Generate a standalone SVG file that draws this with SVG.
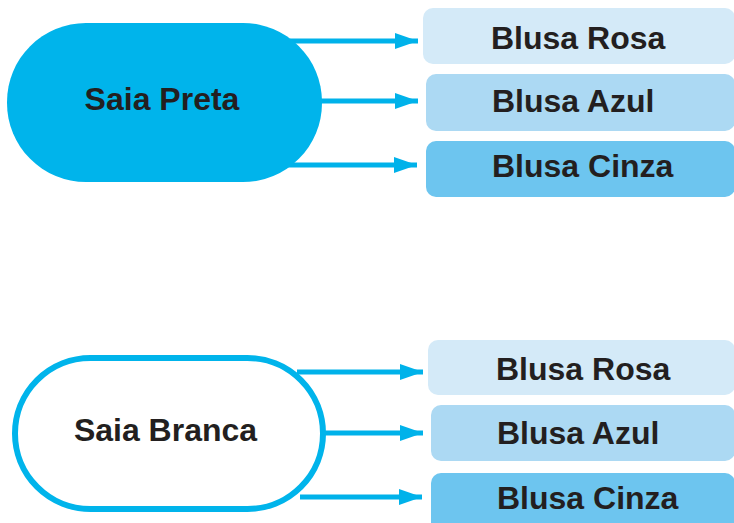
<svg xmlns="http://www.w3.org/2000/svg" width="734" height="523" viewBox="0 0 734 523">
<defs>
<style>
.t{font-family:"Liberation Sans",Arial,sans-serif;font-weight:bold;font-size:32px;fill:#231f20}
.c{stroke:#00b2ea;stroke-width:5;fill:none}
.r{fill:#d4eaf8}.a{fill:#acd9f3}.g{fill:#6dc5ef}
</style>
<marker id="ah" markerUnits="userSpaceOnUse" markerWidth="24" markerHeight="18" refX="23" refY="8" orient="auto" viewBox="0 0 24 16">
<path d="M0,0 L23,8 L0,16 Z" fill="#00b2ea"/>
</marker>
</defs>
<g id="connectors">
<line class="c" x1="290" y1="41" x2="418" y2="41" marker-end="url(#ah)"/>
<line class="c" x1="320" y1="101" x2="418" y2="101" marker-end="url(#ah)"/>
<line class="c" x1="287" y1="165" x2="417" y2="165" marker-end="url(#ah)"/>
<line class="c" x1="297" y1="372" x2="423" y2="372" marker-end="url(#ah)"/>
<line class="c" x1="323" y1="433" x2="423" y2="433" marker-end="url(#ah)"/>
<line class="c" x1="300" y1="497" x2="422" y2="497" marker-end="url(#ah)"/>
</g>
<g id="saia-preta">
<rect x="7" y="23" width="315" height="159" rx="79" fill="#00b4eb"/>
<text class="t" x="162" y="110" text-anchor="middle">Saia Preta</text>
</g>
<g id="saia-branca">
<rect x="15" y="358" width="308" height="151" rx="75.5" fill="#ffffff" stroke="#00b4eb" stroke-width="6"/>
<text class="t" x="165.5" y="441" text-anchor="middle">Saia Branca</text>
</g>
<g id="p-rosa"><rect class="r" x="423" y="8" width="312" height="56" rx="10"/><text class="t" x="491" y="49">Blusa Rosa</text></g>
<g id="p-azul"><rect class="a" x="426" y="74" width="309" height="57" rx="10"/><text class="t" x="492" y="112">Blusa Azul</text></g>
<g id="p-cinza"><rect class="g" x="426" y="141" width="309" height="56" rx="10"/><text class="t" x="492" y="177">Blusa Cinza</text></g>
<g id="b-rosa"><rect class="r" x="428" y="340" width="307" height="55" rx="10"/><text class="t" x="496" y="380">Blusa Rosa</text></g>
<g id="b-azul"><rect class="a" x="431" y="405" width="304" height="56" rx="10"/><text class="t" x="497" y="444">Blusa Azul</text></g>
<g id="b-cinza"><rect class="g" x="431" y="473" width="304" height="60" rx="10"/><text class="t" x="497" y="509">Blusa Cinza</text></g>
</svg>
